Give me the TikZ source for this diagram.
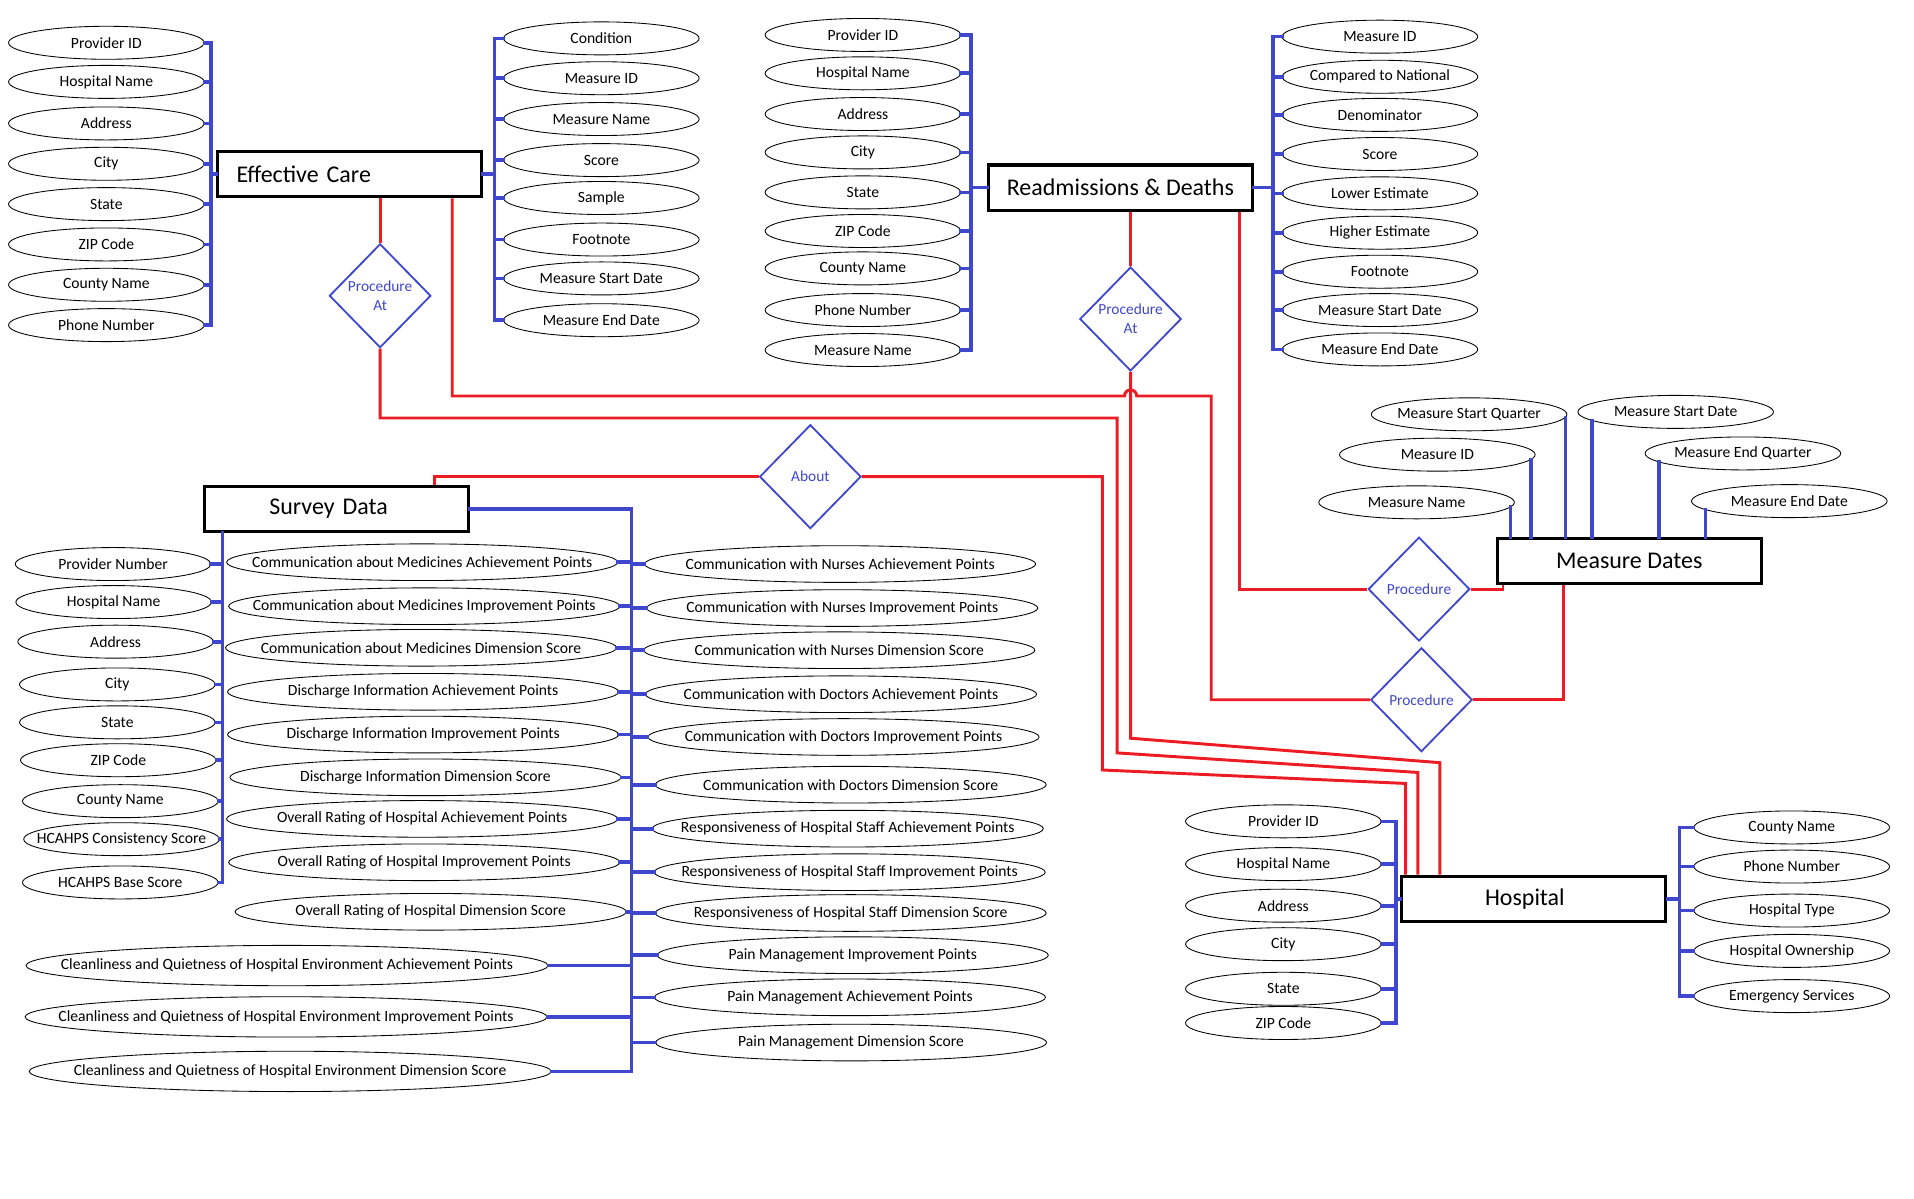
\documentclass[tikz,border=0pt]{standalone}
\usepackage{fontspec}
\setmainfont{Carlito}
\usetikzlibrary{shapes.geometric}
\definecolor{erblue}{RGB}{63,72,204}
\definecolor{erred}{RGB}{237,28,36}
\newcommand\attrfont{\fontsize{12.8pt}{14pt}\selectfont}
\newcommand\entfont{\fontsize{19.6pt}{22pt}\selectfont}
\newcommand\relfont{\fontsize{12.6pt}{15.3pt}\selectfont}
\begin{document}
\begin{tikzpicture}
[x=1pt,y=-1pt,
entity/.style={draw,line width=2.6pt,minimum width=216pt,minimum height=37pt,inner sep=0pt,font=\entfont},
attr/.style={ellipse,draw,line width=0.7pt,minimum width=160pt,minimum height=27pt,inner xsep=-45pt,inner ysep=0pt,font=\attrfont},
attrwide/.style={attr,minimum width=320pt,minimum height=30pt},
attrwidest/.style={attr,minimum width=427pt,minimum height=33pt},
relation/.style={diamond,draw=erblue,line width=1.5pt,text=erblue,aspect=1,inner sep=0pt,minimum width=83pt,minimum height=85pt,align=center,font=\relfont},
attrline/.style={erblue,line width=3pt,line cap=rect},
relline/.style={erred,line width=2.4pt}]
\useasboundingbox (0,0) rectangle (1566,981);

\node[entity,text width=185pt,align=left] (ec) at (286,142.5) {Effective Care};
\node[entity] (rd) at (916.7,153.5) {Readmissions \& Deaths};
\node[entity,text width=110pt,align=left] (sd) at (275.3,416.5) {Survey Data};
\node[entity] (md) at (1333,459) {Measure Dates};
\node[entity,text width=80pt,align=left] (hosp) at (1255,735.5) {Hospital};

\node[relation] (ecRel) at (311,242) {Procedure\\At};
\node[relation] (rdRel) at (925,261) {Procedure\\At};
\node[relation] (about) at (663,390) {About};
\node[relation] (mdProc1) at (1161,482) {Procedure};
\node[relation] (mdProc2) at (1163,572.5) {Procedure};

\coordinate (ecLs) at (172.8,0);
\coordinate (ecRs) at (404.7,0);
\coordinate (rdLs) at (794.2,0);
\coordinate (rdRs) at (1041.6,0);
\coordinate (sdLs) at (182,0);
\coordinate (sdRs) at (516.8,0);
\coordinate (hoLs) at (1142,0);
\coordinate (hoRs) at (1374,0);

\foreach \y/\t [count=\i] in {35/Provider ID,67/Hospital Name,101/Address,134/City,167/State,200/ZIP Code,233/County Name,266/Phone Number}
{
	\node[attr] (ecL\i) at (87,\y) {\t};
	\draw[attrline] (ecL\i.east) -- (ecL\i.east -| ecLs);
}
\draw[attrline] (ecL1.east -| ecLs) -- (ecL8.east -| ecLs);
\draw[attrline] (ec.west) -- (ec.west -| ecLs);

\foreach \y/\t [count=\i] in {31.4/Condition,64/Measure ID,97.4/Measure Name,131/Score,162/Sample,196/Footnote,227.8/Measure Start Date,262/Measure End Date}
{
	\node[attr] (ecR\i) at (492,\y) {\t};
	\draw[attrline] (ecR\i.west -| ecRs) -- (ecR\i.west);
}
\draw[attrline] (ecR1.west -| ecRs) -- (ecR8.west -| ecRs);
\draw[attrline] (ec.east) -- (ec.east -| ecRs);

\foreach \y/\t [count=\i] in {28.6/Provider ID,60/Hospital Name,93.3/Address,124.7/City,157.4/State,189/ZIP Code,219.6/County Name,253.7/Phone Number,286.4/Measure Name}
{
	\node[attr] (rdL\i) at (706,\y) {\t};
	\draw[attrline] (rdL\i.east) -- (rdL\i.east -| rdLs);
}
\draw[attrline] (rdL1.east -| rdLs) -- (rdL9.east -| rdLs);
\draw[attrline] (rd.west) -- (rd.west -| rdLs);

\foreach \y/\t [count=\i] in {30/Measure ID,62.8/Compared to National,94/Denominator,126/Score,158.2/Lower Estimate,190.4/Higher Estimate,222.3/Footnote,253.7/Measure Start Date,285.9/Measure End Date}
{
	\node[attr] (rdR\i) at (1129,\y) {\t};
	\draw[attrline] (rdR\i.west -| rdRs) -- (rdR\i.west);
}
\draw[attrline] (rdR1.west -| rdRs) -- (rdR9.west -| rdRs);
\draw[attrline] (rd.east) -- (rd.east -| rdRs);

\foreach \x/\y/\t [count=\i] in {92.5/461.5/Provider Number,93/492.6/Hospital Name,94.6/525/Address,96/560/City,96/591/State,96.8/622/ZIP Code,98.4/655.5/County Name,99.4/686.6/HCAHPS Consistency Score,98.4/722/HCAHPS Base Score}
{
	\node[attr] (sdL\i) at (\x,\y) {\t};
	\draw[attrline] (sdL\i.east) -- (sdL\i.east -| sdLs);
}
\draw[attrline] (sdLs |- sd.south) -- (sdLs |- sdL9.east);

\foreach \x/\y/\t [count=\i] in {345.4/460/Communication about Medicines Achievement Points,347.1/496/Communication about Medicines Improvement Points,344.5/530/Communication about Medicines Dimension Score,346.2/566/Discharge Information Achievement Points,346.2/601/Discharge Information Improvement Points,348.1/636/Discharge Information Dimension Score,345.4/670/Overall Rating of Hospital Achievement Points,347.1/705.5/Overall Rating of Hospital Improvement Points,352.4/746/Overall Rating of Hospital Dimension Score}
{
	\node[attrwide] (sdM\i) at (\x,\y) {\t};
	\draw[attrline] (sdM\i.east) -- (sdM\i.east -| sdRs);
}
\foreach \x/\y/\t [count=\i] in {234.8/790/Cleanliness and Quietness of Hospital Environment Achievement Points,234/832/Cleanliness and Quietness of Hospital Environment Improvement Points,237.4/876.6/Cleanliness and Quietness of Hospital Environment Dimension Score}
{
	\node[attrwidest] (sdC\i) at (\x,\y) {\t};
	\draw[attrline] (sdC\i.east) -- (sdC\i.east -| sdRs);
}
\foreach \x/\y/\t [count=\i] in {687.4/461.5/Communication with Nurses Achievement Points,689.1/497.5/Communication with Nurses Improvement Points,686.7/532/Communication with Nurses Dimension Score,688.1/568/Communication with Doctors Achievement Points,690.2/603/Communication with Doctors Improvement Points,696/642/Communication with Doctors Dimension Score,693.6/678/Responsiveness of Hospital Staff Achievement Points,695.2/713.6/Responsiveness of Hospital Staff Improvement Points,696/747/Responsiveness of Hospital Staff Dimension Score,697.7/781.5/Pain Management Improvement Points,695.4/816/Pain Management Achievement Points,696.3/853/Pain Management Dimension Score}
{
	\node[attrwide] (sdR\i) at (\x,\y) {\t};
	\draw[attrline] (sdR\i.west -| sdRs) -- (sdR\i.west);
}
\draw[attrline] (sd.east) -| (sdRs |- sdC3.east);

\foreach \y/\t [count=\i] in {672/Provider ID,707/Hospital Name,741/Address,772.5/City,809/State,837/ZIP Code}
{
	\node[attr] (hoL\i) at (1050,\y) {\t};
	\draw[attrline] (hoL\i.east) -- (hoL\i.east -| hoLs);
}
\draw[attrline] (hoL1.east -| hoLs) -- (hoL6.east -| hoLs);
\draw[attrline] (hosp.west) -- (hosp.west -| hoLs);

\foreach \y/\t [count=\i] in {677/County Name,709/Phone Number,745/Hospital Type,778/Hospital Ownership,815/Emergency Services}
{
	\node[attr] (hoR\i) at (1466,\y) {\t};
	\draw[attrline] (hoR\i.west -| hoRs) -- (hoR\i.west);
}
\draw[attrline] (hoR1.west -| hoRs) -- (hoR5.west -| hoRs);
\draw[attrline] (hosp.east) -- (hosp.east -| hoRs);

\node[attr] (mdSQ) at (1202,339) {Measure Start Quarter};
\node[attr] (mdSD) at (1371,337) {Measure Start Date};
\node[attr] (mdID) at (1176,372) {Measure ID};
\node[attr] (mdEQ) at (1426,371) {Measure End Quarter};
\node[attr] (mdName) at (1159,411) {Measure Name};
\node[attr] (mdED) at (1464,410) {Measure End Date};
\foreach \n/\a in {mdName/-3,mdID/-3,mdSQ/-2,mdSD/186,mdEQ/186,mdED/186}
	\draw[attrline] (\n.\a) -- (\n.\a |- md.north);

\coordinate (ecBend) at (991,324);
\coordinate (ecTurn) at (914,342);
\coordinate (ecKnee) at (914,616);
\coordinate (ecFoot) at (1160,632);
\coordinate (rdKnee) at (925,604);
\coordinate (rdFoot) at (1178,624);
\coordinate (abKnee) at (902,630);
\coordinate (abFoot) at (1150,641);

\draw[relline] (ecRel.north |- ec.south) -- (ecRel.north);
\draw[relline] (rdRel.north |- rd.south) -- (rdRel.north);
\draw[relline] ([xshift=84pt]ec.south) |- ([xshift=-5pt]rdRel.south |- ecBend) arc[start angle=180,end angle=0,radius=5pt] -- (ecBend) |- (mdProc2.west);
\draw[relline] ([xshift=97.5pt]rd.south) |- (mdProc1.west);
\draw[relline] (mdProc1.east) -| ([xshift=6pt]md.south west);
\draw[relline] (mdProc2.east) -| ([xshift=-54pt]md.south);
\draw[relline] (ecRel.south) |- (ecTurn) -- (ecKnee) -- (ecFoot) -- (ecFoot |- hosp.north);
\draw[relline] (rdRel.south) -- (rdKnee) -- (rdFoot) -- (rdFoot |- hosp.north);
\draw[relline] (about.east) -| (abKnee) -- (abFoot) -- (abFoot |- hosp.north);
\draw[relline] (about.west) -| ([xshift=80.5pt]sd.north);
\end{tikzpicture}
\end{document}
